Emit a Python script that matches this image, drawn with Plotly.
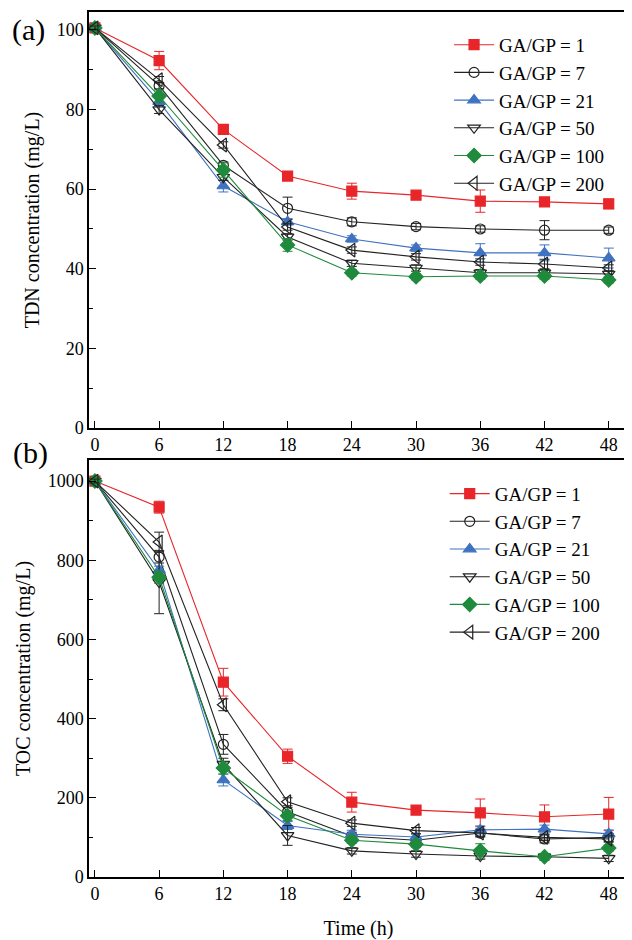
import plotly.graph_objects as go

time_h = [0, 6, 12, 18, 24, 30, 36, 42, 48]
series_names = ["GA/GP = 1", "GA/GP = 7", "GA/GP = 21", "GA/GP = 50", "GA/GP = 100", "GA/GP = 200"]

# Panel (a) TDN concentration (mg/L)
tdn_1 = [100.5, 92.3, 75.0, 63.3, 59.5, 58.5, 57.0, 56.8, 56.3]
tdn_7 = [100.5, 86.0, 66.0, 55.2, 51.8, 50.6, 50.0, 49.7, 49.7]
tdn_21 = [100.5, 82.0, 60.8, 51.8, 47.5, 45.2, 44.0, 44.0, 42.7]
tdn_50 = [100.5, 80.0, 63.0, 48.0, 41.4, 40.2, 39.0, 39.0, 38.7]
tdn_100 = [100.5, 83.4, 64.8, 46.0, 39.0, 38.0, 38.2, 38.2, 37.2]
tdn_200 = [100.5, 87.5, 71.1, 50.5, 44.7, 43.0, 41.7, 41.2, 40.2]
tdn_err_1 = [0.5, 2.3, 0.8, 0.8, 2.0, 0.8, 2.8, 0.8, 1.2]
tdn_err_7 = [0.5, 0.8, 0.8, 2.8, 1.0, 0.8, 0.8, 2.4, 0.8]
tdn_err_21 = [0.5, 0.8, 1.5, 0.8, 0.8, 0.8, 2.3, 2.0, 2.5]
tdn_err_50 = [0.5, 1.0, 0.8, 0.8, 0.8, 0.8, 0.8, 0.8, 0.8]
tdn_err_100 = [0.5, 1.5, 1.8, 1.6, 0.8, 0.8, 0.8, 0.8, 0.8]
tdn_err_200 = [0.5, 0.8, 0.8, 0.8, 0.8, 0.8, 0.8, 1.2, 0.8]

# Panel (b) TOC concentration (mg/L)
toc_1 = [1000, 934, 492, 305, 189, 169, 162, 152, 159]
toc_7 = [1000, 808, 335, 165, 103, 93, 111, 96, 100]
toc_21 = [1000, 775, 245, 130, 108, 101, 119, 121, 109]
toc_50 = [1000, 745, 285, 105, 66, 58, 53, 51, 47]
toc_100 = [1000, 757, 275, 155, 93, 83, 66, 51, 73]
toc_200 = [1000, 846, 435, 190, 136, 117, 111, 100, 96]
toc_err_1 = [5, 15, 35, 18, 25, 8, 35, 30, 42]
toc_err_7 = [5, 15, 25, 10, 10, 8, 10, 10, 10]
toc_err_21 = [5, 10, 15, 10, 10, 8, 10, 10, 10]
toc_err_50 = [5, 80, 15, 25, 8, 8, 8, 8, 8]
toc_err_100 = [5, 15, 15, 12, 8, 8, 18, 8, 8]
toc_err_200 = [5, 25, 15, 10, 8, 8, 8, 8, 8]

colors = ["#e8262a", "#222222", "#3f72c0", "#222222", "#1f8a3c", "#222222"]
symbols = ["square", "circle-open", "triangle-up", "triangle-down-open", "diamond", "triangle-left-open"]
marker_sizes = [10, 10, 11, 11, 11, 12]

tdn_all = [tdn_1, tdn_7, tdn_21, tdn_50, tdn_100, tdn_200]
tdn_err = [tdn_err_1, tdn_err_7, tdn_err_21, tdn_err_50, tdn_err_100, tdn_err_200]
toc_all = [toc_1, toc_7, toc_21, toc_50, toc_100, toc_200]
toc_err = [toc_err_1, toc_err_7, toc_err_21, toc_err_50, toc_err_100, toc_err_200]

fig = go.Figure()
font_family = "Liberation Serif"

for i, name in enumerate(series_names):
    mk = dict(symbol=symbols[i], size=marker_sizes[i], color=colors[i],
              line=dict(color=colors[i], width=1.2))
    fig.add_trace(go.Scatter(
        x=time_h, y=tdn_all[i], name=name, mode="lines+markers",
        line=dict(color=colors[i], width=1.1), marker=mk,
        error_y=dict(type="data", array=tdn_err[i], color=colors[i], thickness=1, width=5),
        xaxis="x", yaxis="y", legend="legend"))
for i, name in enumerate(series_names):
    mk = dict(symbol=symbols[i], size=marker_sizes[i], color=colors[i],
              line=dict(color=colors[i], width=1.2))
    fig.add_trace(go.Scatter(
        x=time_h, y=toc_all[i], name=name, mode="lines+markers",
        line=dict(color=colors[i], width=1.1), marker=mk,
        error_y=dict(type="data", array=toc_err[i], color=colors[i], thickness=1, width=5),
        xaxis="x2", yaxis="y2", legend="legend2"))

axis_common = dict(showline=True, linecolor="black", linewidth=1.5, mirror=True,
                   ticks="inside", ticklen=7, tickwidth=1.3, tickcolor="black",
                   showgrid=False, zeroline=False,
                   tickfont=dict(family=font_family, size=18, color="black"))

title_font = dict(family=font_family, size=20, color="black")

fig.update_layout(
    width=624, height=932,
    margin=dict(l=81, r=2, t=4, b=63),
    plot_bgcolor="white", paper_bgcolor="white",
    font=dict(family=font_family, color="black"),
    xaxis=dict(domain=[0, 1], anchor="y", range=[-0.55, 49.8], tickvals=time_h, **axis_common),
    yaxis=dict(domain=[0.519, 1], anchor="x", range=[0, 104.5], tickvals=[0, 20, 40, 60, 80, 100],
               minor=dict(tickvals=[10, 30, 50, 70, 90], ticks="inside", ticklen=4, tickcolor="black"),
               title=dict(text="TDN concentration (mg/L)", font=title_font, standoff=12),
               **axis_common),
    xaxis2=dict(domain=[0, 1], anchor="y2", range=[-0.55, 49.8], tickvals=time_h,
                title=dict(text="Time (h)", font=title_font, standoff=18),
                **axis_common),
    yaxis2=dict(domain=[0, 0.482], anchor="x2", range=[0, 1053], tickvals=[0, 200, 400, 600, 800, 1000],
                minor=dict(tickvals=[100, 300, 500, 700, 900], ticks="inside", ticklen=4, tickcolor="black"),
                title=dict(text="TOC concentration (mg/L)", font=title_font, standoff=12),
                **axis_common),
    legend=dict(x=0.668, y=0.984, xanchor="left", yanchor="top", bgcolor="rgba(0,0,0,0)",
                font=dict(family=font_family, size=19), tracegroupgap=0, itemwidth=40),
    legend2=dict(x=0.66, y=0.465, xanchor="left", yanchor="top", bgcolor="rgba(0,0,0,0)",
                 font=dict(family=font_family, size=19), tracegroupgap=0, itemwidth=40),
    showlegend=True,
    annotations=[
        dict(text="(a)", x=-0.113, y=0.979, xref="paper", yref="paper", showarrow=False,
             font=dict(family=font_family, size=30), xanchor="center", yanchor="middle"),
        dict(text="(b)", x=-0.108, y=0.490, xref="paper", yref="paper", showarrow=False,
             font=dict(family=font_family, size=30), xanchor="center", yanchor="middle"),
    ],
)

fig.write_html("out.html")
